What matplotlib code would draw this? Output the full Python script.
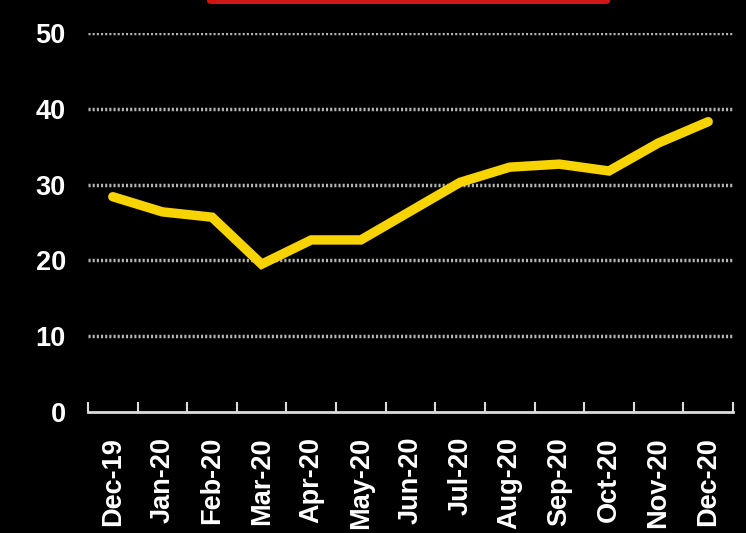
import numpy as np
import matplotlib.pyplot as plt
from matplotlib.patches import FancyBboxPatch

months = ['Dec-19', 'Jan-20', 'Feb-20', 'Mar-20', 'Apr-20', 'May-20', 'Jun-20',
          'Jul-20', 'Aug-20', 'Sep-20', 'Oct-20', 'Nov-20', 'Dec-20']
values = [28.4, 26.4, 25.7, 19.5, 22.7, 22.7, 26.5, 30.3, 32.3, 32.7, 31.8, 35.5, 38.3]
y_ticks = [0, 10, 20, 30, 40, 50]

plt.rcParams['font.family'] = ['Liberation Sans', 'DejaVu Sans']

fig = plt.figure(figsize=(7.46, 5.33), dpi=100, facecolor='black')
ax = fig.add_axes([88 / 746, 121 / 533, 645 / 746, 379 / 533])
ax.set_facecolor('black')

x = np.arange(len(months))
ax.plot(x, values, color='#f7d300', linewidth=6.8, solid_joinstyle='miter',
        solid_capstyle='round', zorder=3)

ax.set_xlim(-0.5, len(months) - 0.5)
ax.set_ylim(0, 50)
ax.set_yticks(y_ticks)
ax.set_yticklabels([str(v) for v in y_ticks], color='white', fontsize=19.5, fontweight='bold')

for v in y_ticks[1:]:
    ax.axhline(v, color='#b5b5b5', linewidth=2.5, linestyle=(0, (0.6, 0.6)), zorder=1)

ax.set_xticks(x)
ax.set_xticklabels(months, rotation=90, color='white', fontsize=19.5, fontweight='bold')
ax.set_xticks(np.arange(-0.5, len(months), 1), minor=True)
ax.tick_params(axis='x', which='major', length=0, pad=18)
ax.tick_params(axis='x', which='minor', direction='in', length=7, width=1.5, color='#dddddd')
ax.tick_params(axis='y', length=0, pad=16)

for side in ['top', 'right', 'left']:
    ax.spines[side].set_visible(False)
ax.spines['bottom'].set_color('#dddddd')
ax.spines['bottom'].set_linewidth(2)

# red title box, mostly cut off above the figure
fig.patches.append(FancyBboxPatch((207 / 746, 1 - 4 / 533), 403 / 746, 20 / 533,
                                  boxstyle='round,pad=0,rounding_size=0.006',
                                  transform=fig.transFigure, facecolor='#d01515',
                                  edgecolor='none'))

fig.savefig('out.png', dpi=100, facecolor='black')
